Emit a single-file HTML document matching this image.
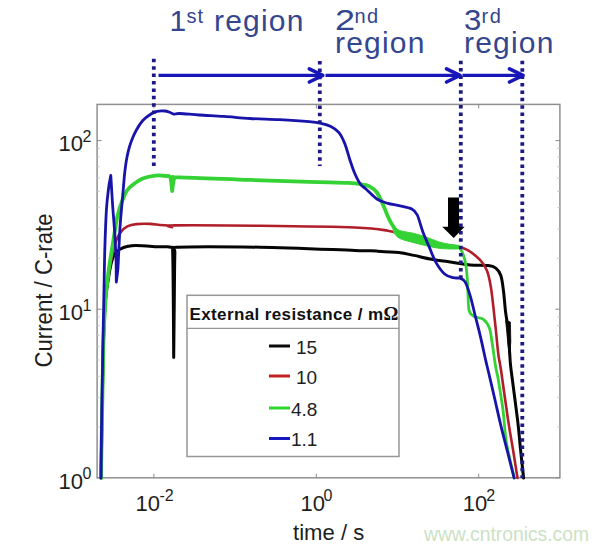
<!DOCTYPE html>
<html><head><meta charset="utf-8"><style>
html,body{margin:0;padding:0;background:#fff;}
body{width:608px;height:549px;position:relative;overflow:hidden;font-family:"Liberation Sans",sans-serif;}
.t{position:absolute;white-space:nowrap;line-height:1;}
.ttl{color:#34468e;font-size:30px;}
.ttl.sup{font-size:20px;}
.sp{font-size:16px;}
.tk{font-size:22px;}
.rg{letter-spacing:1.2px;}
.ax{color:#1e1e1e;}
</style></head><body>
<svg width="608" height="549" viewBox="0 0 608 549" style="position:absolute;left:0;top:0">
<rect x="97.1" y="104.4" width="462.79999999999995" height="373.4" fill="#fff" stroke="#909090" stroke-width="1.5"/>
<g stroke="#8a8a8a" stroke-width="1"><line x1="97.1" y1="477.8" x2="101.6" y2="477.8" stroke="#8a8a8a"/><line x1="559.9" y1="477.8" x2="555.4" y2="477.8" stroke="#8a8a8a"/><line x1="97.1" y1="427.0" x2="99.6" y2="427.0" stroke="#c4c4c4"/><line x1="559.9" y1="427.0" x2="557.4" y2="427.0" stroke="#c4c4c4"/><line x1="97.1" y1="397.4" x2="99.6" y2="397.4" stroke="#c4c4c4"/><line x1="559.9" y1="397.4" x2="557.4" y2="397.4" stroke="#c4c4c4"/><line x1="97.1" y1="376.3" x2="99.6" y2="376.3" stroke="#c4c4c4"/><line x1="559.9" y1="376.3" x2="557.4" y2="376.3" stroke="#c4c4c4"/><line x1="97.1" y1="360.0" x2="99.6" y2="360.0" stroke="#c4c4c4"/><line x1="559.9" y1="360.0" x2="557.4" y2="360.0" stroke="#c4c4c4"/><line x1="97.1" y1="346.6" x2="99.6" y2="346.6" stroke="#c4c4c4"/><line x1="559.9" y1="346.6" x2="557.4" y2="346.6" stroke="#c4c4c4"/><line x1="97.1" y1="335.3" x2="99.6" y2="335.3" stroke="#c4c4c4"/><line x1="559.9" y1="335.3" x2="557.4" y2="335.3" stroke="#c4c4c4"/><line x1="97.1" y1="325.5" x2="99.6" y2="325.5" stroke="#c4c4c4"/><line x1="559.9" y1="325.5" x2="557.4" y2="325.5" stroke="#c4c4c4"/><line x1="97.1" y1="316.9" x2="99.6" y2="316.9" stroke="#c4c4c4"/><line x1="559.9" y1="316.9" x2="557.4" y2="316.9" stroke="#c4c4c4"/><line x1="97.1" y1="309.2" x2="101.6" y2="309.2" stroke="#8a8a8a"/><line x1="559.9" y1="309.2" x2="555.4" y2="309.2" stroke="#8a8a8a"/><line x1="97.1" y1="258.4" x2="99.6" y2="258.4" stroke="#c4c4c4"/><line x1="559.9" y1="258.4" x2="557.4" y2="258.4" stroke="#c4c4c4"/><line x1="97.1" y1="228.8" x2="99.6" y2="228.8" stroke="#c4c4c4"/><line x1="559.9" y1="228.8" x2="557.4" y2="228.8" stroke="#c4c4c4"/><line x1="97.1" y1="207.7" x2="99.6" y2="207.7" stroke="#c4c4c4"/><line x1="559.9" y1="207.7" x2="557.4" y2="207.7" stroke="#c4c4c4"/><line x1="97.1" y1="191.4" x2="99.6" y2="191.4" stroke="#c4c4c4"/><line x1="559.9" y1="191.4" x2="557.4" y2="191.4" stroke="#c4c4c4"/><line x1="97.1" y1="178.0" x2="99.6" y2="178.0" stroke="#c4c4c4"/><line x1="559.9" y1="178.0" x2="557.4" y2="178.0" stroke="#c4c4c4"/><line x1="97.1" y1="166.7" x2="99.6" y2="166.7" stroke="#c4c4c4"/><line x1="559.9" y1="166.7" x2="557.4" y2="166.7" stroke="#c4c4c4"/><line x1="97.1" y1="156.9" x2="99.6" y2="156.9" stroke="#c4c4c4"/><line x1="559.9" y1="156.9" x2="557.4" y2="156.9" stroke="#c4c4c4"/><line x1="97.1" y1="148.3" x2="99.6" y2="148.3" stroke="#c4c4c4"/><line x1="559.9" y1="148.3" x2="557.4" y2="148.3" stroke="#c4c4c4"/><line x1="97.1" y1="140.6" x2="101.6" y2="140.6" stroke="#8a8a8a"/><line x1="559.9" y1="140.6" x2="555.4" y2="140.6" stroke="#8a8a8a"/><line x1="153.9" y1="477.8" x2="153.9" y2="473.8"/><line x1="153.9" y1="104.4" x2="153.9" y2="108.4"/><line x1="316.3" y1="477.8" x2="316.3" y2="473.8"/><line x1="316.3" y1="104.4" x2="316.3" y2="108.4"/><line x1="478.7" y1="477.8" x2="478.7" y2="473.8"/><line x1="478.7" y1="104.4" x2="478.7" y2="108.4"/></g>
<g fill="none" stroke-linejoin="round" stroke-linecap="round">
<path d="M101.00 478.00 C101.17 468.33 101.58 443.00 102.00 420.00 C102.42 397.00 102.92 360.00 103.50 340.00 C104.08 320.00 104.67 310.33 105.50 300.00 C106.33 289.67 107.50 284.33 108.50 278.00 C109.50 271.67 110.42 266.08 111.50 262.00 C112.58 257.92 113.60 255.63 115.00 253.50 C116.40 251.37 117.73 250.40 119.90 249.20 C122.07 248.00 125.25 246.90 128.00 246.30 C130.75 245.70 131.07 245.52 136.40 245.60 C141.73 245.68 154.18 246.52 160.00 246.80 C165.82 247.08 169.18 246.27 171.30 247.30 C173.42 248.33 172.37 244.22 172.70 253.00 C173.03 261.78 173.13 282.58 173.30 300.00 C173.47 317.42 173.63 347.92 173.70 357.50 C173.80 347.92 174.10 317.42 174.30 300.00 C174.50 282.58 174.53 261.78 174.90 253.00 C175.27 244.22 162.32 248.27 176.50 247.30 C190.68 246.33 230.25 246.68 260.00 247.20 C289.75 247.72 335.52 249.75 355.00 250.40 C374.48 251.05 369.62 250.73 376.90 251.10 C384.18 251.47 392.52 251.88 398.70 252.60 C404.88 253.32 408.53 254.30 414.00 255.40 C419.47 256.50 424.93 258.03 431.50 259.20 C438.07 260.37 446.93 261.43 453.40 262.40 C459.87 263.37 464.50 264.47 470.30 265.00 C476.10 265.53 483.95 265.08 488.20 265.60 C492.45 266.12 493.68 266.42 495.80 268.10 C497.92 269.78 499.62 271.88 500.90 275.70 C502.18 279.52 502.73 285.05 503.50 291.00 C504.27 296.95 504.73 305.02 505.50 311.40 C506.27 317.78 507.38 322.07 508.10 329.30 C508.82 336.53 509.30 348.02 509.80 354.80 C510.30 361.58 509.80 359.12 511.10 370.00 C512.40 380.88 516.02 406.73 517.60 420.10 C519.18 433.47 519.60 440.55 520.60 450.20 C521.60 459.85 523.10 473.37 523.60 478.00" stroke="#050505" stroke-width="3"/>
<path d="M101.00 478.00 C101.17 468.33 101.58 443.00 102.00 420.00 C102.42 397.00 102.92 360.00 103.50 340.00 C104.08 320.00 104.67 311.00 105.50 300.00 C106.33 289.00 107.33 281.67 108.50 274.00 C109.67 266.33 111.18 259.67 112.50 254.00 C113.82 248.33 114.98 243.68 116.40 240.00 C117.82 236.32 119.18 234.17 121.00 231.90 C122.82 229.63 124.73 227.70 127.30 226.40 C129.87 225.10 132.62 224.52 136.40 224.10 C140.18 223.68 146.07 223.75 150.00 223.90 C153.93 224.05 156.67 224.72 160.00 225.00 C163.33 225.28 168.00 225.23 170.00 225.60 C172.00 225.97 171.25 227.23 172.00 227.20 C172.75 227.17 159.83 225.63 174.50 225.40 C189.17 225.17 229.92 225.45 260.00 225.80 C290.08 226.15 333.70 226.68 355.00 227.50 C376.30 228.32 379.78 229.43 387.80 230.70 C395.82 231.97 397.63 233.15 403.10 235.10 C408.57 237.05 414.77 240.58 420.60 242.40 C426.43 244.22 431.92 245.28 438.10 246.00 C444.28 246.72 452.75 246.00 457.70 246.70 C462.65 247.40 464.00 247.92 467.80 250.20 C471.60 252.48 477.32 257.00 480.50 260.40 C483.68 263.80 485.20 266.35 486.90 270.60 C488.60 274.85 489.63 279.95 490.70 285.90 C491.77 291.85 492.45 299.07 493.30 306.30 C494.15 313.53 494.95 321.22 495.80 329.30 C496.65 337.38 497.53 348.02 498.40 354.80 C499.27 361.58 499.38 359.12 501.00 370.00 C502.62 380.88 506.08 406.73 508.10 420.10 C510.12 433.47 511.53 440.55 513.10 450.20 C514.67 459.85 516.77 473.37 517.50 478.00" stroke="#b01e2a" stroke-width="2.6"/>
<path d="M101.00 478.00 C101.17 468.33 101.58 443.00 102.00 420.00 C102.42 397.00 102.92 360.00 103.50 340.00 C104.08 320.00 104.67 311.33 105.50 300.00 C106.33 288.67 107.50 280.00 108.50 272.00 C109.50 264.00 110.50 258.50 111.50 252.00 C112.50 245.50 113.50 239.00 114.50 233.00 C115.50 227.00 116.17 221.50 117.50 216.00 C118.83 210.50 120.92 204.25 122.50 200.00 C124.08 195.75 125.33 193.00 127.00 190.50 C128.67 188.00 129.87 187.00 132.50 185.00 C135.13 183.00 138.97 180.07 142.80 178.50 C146.63 176.93 151.63 176.02 155.50 175.60 C159.37 175.18 163.53 175.68 166.00 176.00 C168.47 176.32 169.27 175.00 170.30 177.50 C171.33 180.00 171.88 188.75 172.20 191.00 C172.53 188.92 172.95 180.78 174.20 178.50 C175.45 176.22 167.07 177.07 179.70 177.30 C192.33 177.53 228.42 179.13 250.00 179.90 C271.58 180.67 292.75 181.40 309.20 181.90 C325.65 182.40 339.82 182.45 348.70 182.90 C357.58 183.35 359.12 184.05 362.50 184.60 C365.88 185.15 366.60 184.88 369.00 186.20 C371.40 187.52 374.50 189.27 376.90 192.50 C379.30 195.73 381.22 200.87 383.40 205.60 C385.58 210.33 387.45 216.25 390.00 220.90 C392.55 225.55 395.78 230.77 398.70 233.50 C401.62 236.23 403.85 236.30 407.50 237.30 C411.15 238.30 416.23 238.45 420.60 239.50 C424.97 240.55 429.33 242.52 433.70 243.60 C438.07 244.68 442.80 245.48 446.80 246.00 C450.80 246.52 455.88 246.58 457.70 246.70" stroke="#34d234" stroke-width="3.8"/>
<path d="M446.80 246.00 C448.62 246.12 455.15 245.70 457.70 246.70 C460.25 247.70 460.82 249.38 462.10 252.00 C463.38 254.62 464.55 258.12 465.40 262.40 C466.25 266.68 466.77 272.27 467.20 277.70 C467.63 283.13 467.67 289.45 468.00 295.00 C468.33 300.55 468.18 307.42 469.20 311.00 C470.22 314.58 471.78 315.15 474.10 316.50 C476.42 317.85 480.55 317.18 483.10 319.10 C485.65 321.02 487.92 324.18 489.40 328.00 C490.88 331.82 490.93 335.40 492.00 342.00 C493.07 348.60 494.80 361.60 495.80 367.60 C496.80 373.60 496.80 370.93 498.00 378.00 C499.20 385.07 501.58 399.17 503.00 410.00 C504.42 420.83 504.60 431.67 506.50 443.00 C508.40 454.33 513.08 472.17 514.40 478.00" stroke="#34d234" stroke-width="2.8"/>
<path d="M393.00 225.50 C394.12 226.33 396.38 229.22 399.70 230.50 C403.02 231.78 408.52 232.12 412.90 233.20 C417.28 234.28 421.62 235.53 426.00 237.00 C430.38 238.47 434.80 240.70 439.20 242.00 C443.60 243.30 449.10 244.13 452.40 244.80 C455.70 245.47 457.90 245.37 459.00 246.00 C460.10 246.63 460.10 248.10 459.00 248.60 C457.90 249.10 455.70 249.05 452.40 249.00 C449.10 248.95 443.60 248.85 439.20 248.30 C434.80 247.75 430.38 246.68 426.00 245.70 C421.62 244.72 417.28 243.62 412.90 242.40 C408.52 241.18 402.85 239.97 399.70 238.40 C396.55 236.83 394.95 233.90 394.00 233.00 Z" fill="#34d234" stroke="#34d234" stroke-width="1"/>
<path d="M506 320.5 L510.4 322 L510.8 342 L509.5 356 L508 345 Z" fill="#050505" stroke="#050505" stroke-width="0.8"/>
<path d="M101.00 478.00 C101.08 470.00 101.17 453.00 101.50 430.00 C101.83 407.00 102.58 363.33 103.00 340.00 C103.42 316.67 103.70 305.00 104.00 290.00 C104.30 275.00 104.40 263.33 104.80 250.00 C105.20 236.67 105.77 220.33 106.40 210.00 C107.03 199.67 107.87 193.75 108.60 188.00 C109.33 182.25 110.43 177.58 110.80 175.50 C111.10 180.42 111.98 195.92 112.60 205.00 C113.22 214.08 113.93 221.17 114.50 230.00 C115.07 238.83 115.70 249.33 116.00 258.00 C116.30 266.67 116.25 278.00 116.30 282.00 C116.55 280.00 117.42 274.50 117.80 270.00 C118.18 265.50 118.35 260.00 118.60 255.00 C118.85 250.00 119.00 245.50 119.30 240.00 C119.60 234.50 119.90 228.67 120.40 222.00 C120.90 215.33 121.83 205.33 122.30 200.00 C122.77 194.67 122.82 194.37 123.20 190.00 C123.58 185.63 124.13 178.32 124.60 173.80 C125.07 169.28 125.42 166.55 126.00 162.90 C126.58 159.25 127.20 155.55 128.10 151.90 C129.00 148.25 130.02 144.65 131.40 141.00 C132.78 137.35 134.50 133.42 136.40 130.00 C138.30 126.58 140.37 123.17 142.80 120.50 C145.23 117.83 148.63 115.53 151.00 114.00 C153.37 112.47 154.70 111.80 157.00 111.30 C159.30 110.80 162.68 110.83 164.80 111.00 C166.92 111.17 168.20 111.77 169.70 112.30 C171.20 112.83 172.15 114.00 173.80 114.20 C175.45 114.40 175.35 113.37 179.60 113.50 C183.85 113.63 191.90 114.52 199.30 115.00 C206.70 115.48 215.55 115.82 224.00 116.40 C232.45 116.98 240.73 117.95 250.00 118.50 C259.27 119.05 269.73 119.17 279.60 119.70 C289.47 120.23 302.30 121.10 309.20 121.70 C316.10 122.30 317.38 122.52 321.00 123.30 C324.62 124.08 327.93 124.88 330.90 126.40 C333.87 127.92 336.50 129.57 338.80 132.40 C341.10 135.23 342.88 138.93 344.70 143.40 C346.52 147.87 348.05 154.27 349.70 159.20 C351.35 164.13 352.80 168.82 354.60 173.00 C356.40 177.18 358.60 181.63 360.50 184.30 C362.40 186.97 363.27 186.55 366.00 189.00 C368.73 191.45 373.27 196.60 376.90 199.00 C380.53 201.40 384.17 202.30 387.80 203.40 C391.43 204.50 394.70 204.68 398.70 205.60 C402.70 206.52 408.70 207.33 411.80 208.90 C414.90 210.47 415.47 211.18 417.30 215.00 C419.13 218.82 420.80 226.45 422.80 231.80 C424.80 237.15 427.12 242.00 429.30 247.10 C431.48 252.20 433.35 257.92 435.90 262.40 C438.45 266.88 441.68 271.45 444.60 274.00 C447.52 276.55 450.82 276.98 453.40 277.70 C455.98 278.42 458.13 277.57 460.10 278.30 C462.07 279.03 463.50 279.13 465.20 282.10 C466.90 285.07 468.60 290.37 470.30 296.10 C472.00 301.83 473.70 309.70 475.40 316.50 C477.10 323.30 478.80 329.67 480.50 336.90 C482.20 344.13 484.27 354.05 485.60 359.90 C486.93 365.75 486.93 365.32 488.50 372.00 C490.07 378.68 492.92 390.98 495.00 400.00 C497.08 409.02 498.98 417.73 501.00 426.10 C503.02 434.47 504.92 441.55 507.10 450.20 C509.28 458.85 512.93 473.37 514.10 478.00" stroke="#1814aa" stroke-width="2.8"/>
</g>
<rect x="187" y="295.3" width="212" height="161.2" fill="#fff" stroke="#969696" stroke-width="1.5"/>
<line x1="187" y1="328.3" x2="399" y2="328.3" stroke="#969696" stroke-width="1.3"/>
<g stroke-width="3">
<line x1="269" y1="346" x2="290" y2="346" stroke="#0a0a0a"/>
<line x1="269" y1="376" x2="290" y2="376" stroke="#c42222"/>
<line x1="269" y1="408" x2="290" y2="408" stroke="#2ed62e"/>
<line x1="269" y1="438.5" x2="290" y2="438.5" stroke="#1818c0"/>
</g>
<path d="M448 197.4 H459 V226.8 H464.6 L453.7 238 L442.2 226.8 H448 Z" fill="#000"/>
<line x1="153.8" y1="58.8" x2="153.8" y2="166.0" stroke="#1c1888" stroke-width="3.8" stroke-dasharray="3.5 3.9"/>
<line x1="319.8" y1="61.0" x2="319.8" y2="166.0" stroke="#1c1888" stroke-width="3.8" stroke-dasharray="3.5 3.9"/>
<line x1="460.8" y1="60.7" x2="460.8" y2="281.5" stroke="#1c1888" stroke-width="3.8" stroke-dasharray="3.5 3.9"/>
<line x1="522.3" y1="60.8" x2="522.3" y2="478.0" stroke="#1c1888" stroke-width="3.8" stroke-dasharray="3.5 3.9"/>
<g stroke="#1816b8" stroke-width="3.4">
<line x1="158.5" y1="75.4" x2="322" y2="75.4"/>
<line x1="325.5" y1="75.4" x2="459" y2="75.4"/>
<line x1="462.5" y1="75.4" x2="522" y2="75.4"/>
</g>
<path d="M309.3 68.8 L322.8 75.4 L309.3 82.0" fill="none" stroke="#1816b8" stroke-width="3.6" stroke-linecap="round" stroke-linejoin="round"/>
<path d="M446.5 68.8 L460.0 75.4 L446.5 82.0" fill="none" stroke="#1816b8" stroke-width="3.6" stroke-linecap="round" stroke-linejoin="round"/>
<path d="M509.5 68.8 L523.0 75.4 L509.5 82.0" fill="none" stroke="#1816b8" stroke-width="3.6" stroke-linecap="round" stroke-linejoin="round"/>
</svg>
<div class="t ttl" style="left:169.5px;top:6.2px;">1</div>
<div class="t ttl sup" style="left:186.5px;top:6.2px;letter-spacing:1px">st</div>
<div class="t ttl rg" style="left:214px;top:5.9px;">region</div>
<div class="t ttl" style="left:335px;top:5px;transform:scaleX(1.2);transform-origin:0 0">2</div>
<div class="t ttl sup" style="left:354.5px;top:5.8px;letter-spacing:1.5px">nd</div>
<div class="t ttl rg" style="left:335px;top:28.1px;">region</div>
<div class="t ttl" style="left:463.8px;top:5px;transform:scaleX(1.04);transform-origin:0 0">3</div>
<div class="t ttl sup" style="left:481.5px;top:6px;letter-spacing:1.5px">rd</div>
<div class="t ttl rg" style="left:464px;top:28.1px;">region</div>
<div class="t ax tk" style="left:58.5px;top:133.0px;">10</div>
<div class="t ax sp" style="left:82.5px;top:128.6px;">2</div>
<div class="t ax tk" style="left:58.5px;top:302.0px;">10</div>
<div class="t ax sp" style="left:82.5px;top:298px;">1</div>
<div class="t ax tk" style="left:58.5px;top:470.5px;">10</div>
<div class="t ax sp" style="left:82.5px;top:465.6px;">0</div>
<div class="t ax tk" style="left:135.5px;top:493.0px;">10</div>
<div class="t ax sp" style="left:159.5px;top:487.6px;">-2</div>
<div class="t ax tk" style="left:300.5px;top:493.0px;">10</div>
<div class="t ax sp" style="left:323.5px;top:487.6px;">0</div>
<div class="t ax tk" style="left:462.8px;top:493.0px;">10</div>
<div class="t ax sp" style="left:486.2px;top:487.6px;">2</div>
<div class="t ax" style="left:293px;top:521.8px;font-size:22.1px;">time / s</div>
<div class="t ax" style="left:-31.5px;top:281px;font-size:22.2px;transform:rotate(-90deg) scale(1,1.09);transform-origin:center;width:151px;text-align:center;">Current / C-rate</div>
<div class="t" style="left:189.5px;top:304.5px;font-size:17px;letter-spacing:0.38px;font-weight:bold;color:#111;">External resistance / m<span style="font-family:'Liberation Serif',serif;font-size:18.5px;letter-spacing:0">&Omega;</span></div>
<div class="t ax" style="left:296px;top:338px;font-size:19px;">15</div>
<div class="t ax" style="left:296px;top:368px;font-size:19px;">10</div>
<div class="t ax" style="left:291px;top:400px;font-size:19px;">4.8</div>
<div class="t ax" style="left:291px;top:430px;font-size:19px;">1.1</div>
<div class="t" style="left:424px;top:524.5px;font-size:19.3px;color:#cbe2c4;">www.cntronics.com</div>
</body></html>
